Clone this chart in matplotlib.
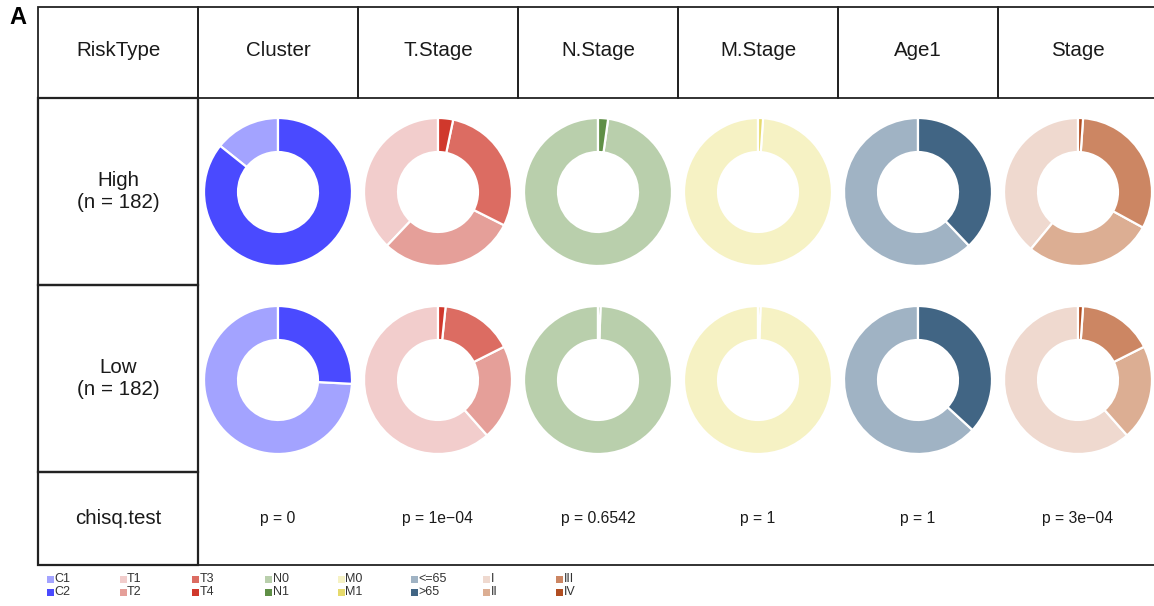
import matplotlib
matplotlib.use("Agg")
import matplotlib.pyplot as plt
from matplotlib.patches import Rectangle

plt.rcParams['font.family'] = ['Liberation Sans', 'DejaVu Sans']

# ---------------- data ----------------
variables = ["Cluster", "T.Stage", "N.Stage", "M.Stage", "Age1", "Stage"]
groups = ["High\n(n = 182)", "Low\n(n = 182)"]
levels = {
    "Cluster": ["C1", "C2"],
    "T.Stage": ["T1", "T2", "T3", "T4"],
    "N.Stage": ["N0", "N1"],
    "M.Stage": ["M0", "M1"],
    "Age1": ["<=65", ">65"],
    "Stage": ["I", "II", "III", "IV"],
}
colors = {
    "Cluster": ["#a3a3ff", "#4a4aff"],
    "T.Stage": ["#f2cdcc", "#e59f99", "#dc6c62", "#d0382c"],
    "N.Stage": ["#b9cfac", "#5f8f46"],
    "M.Stage": ["#f6f2c4", "#e6da6c"],
    "Age1": ["#a0b3c4", "#416584"],
    "Stage": ["#efd9cf", "#dcae93", "#cc8663", "#b14e22"],
}
counts_high = {
    "Cluster": [26, 156],
    "T.Stage": [69, 54, 53, 6],
    "N.Stage": [178, 4],
    "M.Stage": [180, 2],
    "Age1": [113, 69],
    "Stage": [71, 51, 58, 2],
}
counts_low = {
    "Cluster": [135, 47],
    "T.Stage": [112, 38, 29, 3],
    "N.Stage": [181, 1],
    "M.Stage": [181, 1],
    "Age1": [115, 67],
    "Stage": [112, 38, 30, 2],
}
pvalues = ["p = 0", "p = 1e\u221204", "p = 0.6542", "p = 1", "p = 1", "p = 3e\u221204"]

# ---------------- layout (pixel space) ----------------
W, H = 1154, 606
fig = plt.figure(figsize=(W / 100, H / 100), dpi=100)
ax = fig.add_axes([0, 0, 1, 1])
ax.set_xlim(0, W)
ax.set_ylim(0, H)
ax.set_aspect('equal')
ax.axis('off')

def Y(y):
    return H - y

txt_c = '#1a1a1a'
left_x0, left_x1 = 38, 198
col_w = 160
row_edges = [7, 98, 285, 472, 565]
line_kw = dict(color='#222222', lw=1.3)

# header left cell
ax.add_patch(Rectangle((left_x0, Y(row_edges[1])), left_x1 - left_x0,
                       row_edges[1] - row_edges[0], fill=False, ec='#222222', lw=1.3))
ax.text((left_x0 + left_x1) / 2, Y(51), "RiskType", ha='center', va='center',
        fontsize=14.8, color=txt_c)
# header variable cells
for i, v in enumerate(variables):
    x0 = left_x1 + i * col_w
    ax.add_patch(Rectangle((x0, Y(row_edges[1])), col_w, row_edges[1] - row_edges[0],
                           fill=False, ec='#222222', lw=1.3, clip_on=False))
    ax.text(x0 + col_w / 2, Y(51), v, ha='center', va='center', fontsize=14.8, color=txt_c)

# left column cells
row_labels = groups + ["chisq.test"]
for r in range(3):
    y0, y1 = row_edges[r + 1], row_edges[r + 2]
    ax.add_patch(Rectangle((left_x0, Y(y1)), left_x1 - left_x0, y1 - y0,
                           fill=False, ec='#222222', lw=1.6))
    ax.text((left_x0 + left_x1) / 2, Y((y0 + y1) / 2), row_labels[r], ha='center',
            va='center', fontsize=14.8, linespacing=1.25, color=txt_c)

# body frame
ax.plot([left_x1, left_x1], [Y(row_edges[1]), Y(row_edges[4])], **line_kw)
ax.plot([left_x1, W], [Y(row_edges[4]), Y(row_edges[4])], **line_kw)

# donuts
row_centers = [192, 380]
R_out, width_frac = 74, 0.46
for r, counts in enumerate([counts_high, counts_low]):
    for i, v in enumerate(variables):
        cx = left_x1 + i * col_w + col_w / 2
        ax.pie(counts[v], colors=colors[v], startangle=90, counterclock=True,
               center=(cx, Y(row_centers[r])), radius=R_out, frame=True,
               wedgeprops=dict(width=R_out * width_frac, edgecolor='white', linewidth=1.6))

# p values
for i, p in enumerate(pvalues):
    cx = left_x1 + i * col_w + col_w / 2
    ax.text(cx, Y(519), p, ha='center', va='center', fontsize=11.3, color=txt_c)

# panel label
ax.text(9, Y(18), "A", ha='left', va='center', fontsize=17, fontweight='bold')

# legend
leg_x0, leg_dx = 47, 72.7
leg_rows = [579, 592]
col_idx = 0
for v in variables:
    labs = levels[v]
    cols = colors[v]
    for k in range(0, len(labs), 2):
        x = leg_x0 + col_idx * leg_dx
        for j in range(2):
            if k + j < len(labs):
                yy = Y(leg_rows[j])
                ax.add_patch(Rectangle((x, yy - 3.5), 7, 7, color=cols[k + j], lw=0))
                ax.text(x + 7.5, yy, labs[k + j], ha='left', va='center',
                        fontsize=9, color='#333333')
        col_idx += 1

ax.set_xlim(0, W)
ax.set_ylim(0, H)
fig.savefig("out.png", dpi=100)
